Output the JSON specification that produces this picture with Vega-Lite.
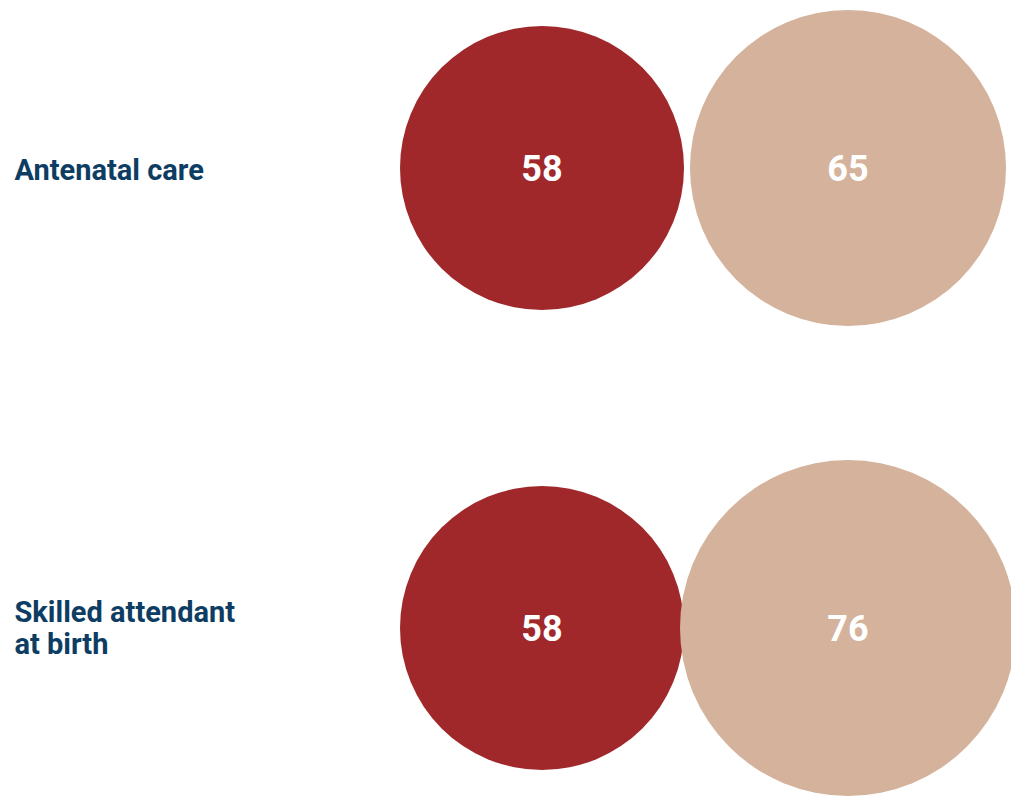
{
  "$schema": "https://vega.github.io/schema/vega-lite/v6.json",
  "width": 1011,
  "height": 796,
  "padding": 0,
  "autosize": {"type": "none"},
  "background": "white",
  "config": {"view": {"stroke": null}},
  "data": {
    "values": [
      {"indicator": "Antenatal care", "group": "a", "value": 58},
      {"indicator": "Antenatal care", "group": "b", "value": 65},
      {"indicator": "Skilled attendant at birth", "group": "a", "value": 58},
      {"indicator": "Skilled attendant at birth", "group": "b", "value": 76}
    ]
  },
  "encoding": {
    "x": {"field": "group", "type": "nominal", "scale": {"type": "point", "domain": ["a", "b"], "padding": 0, "range": [542, 848]}, "axis": null},
    "y": {
      "field": "indicator", "type": "nominal",
      "scale": {"type": "point", "domain": ["Antenatal care", "Skilled attendant at birth"], "padding": 0, "range": [168, 628]},
      "axis": {
        "orient": "left", "title": null, "domain": false, "ticks": false, "grid": false,
        "labelAlign": "left", "labelBaseline": "middle", "labelPadding": -14,
        "labelFont": "Roboto", "labelFontWeight": "bold", "labelFontSize": 29, "labelColor": "#0e3d63",
        "labelLineHeight": 32, "labelLimit": 0,
        "labelOffset": {"condition": {"test": "datum.value == 'Skilled attendant at birth'", "value": -16}, "value": 2},
        "labelExpr": "datum.value == 'Skilled attendant at birth' ? ['Skilled attendant', 'at birth'] : datum.value"
      }
    }
  },
  "layer": [
    {
      "mark": {"type": "circle", "opacity": 1},
      "encoding": {
        "size": {"field": "value", "type": "quantitative", "scale": {"type": "threshold", "domain": [60, 70], "range": [80656, 99856, 112896]}, "legend": null},
        "color": {"field": "group", "type": "nominal", "scale": {"domain": ["a", "b"], "range": ["#a0282b", "#d4b29b"]}, "legend": null}
      }
    },
    {
      "mark": {"type": "text", "font": "Roboto", "fontWeight": "bold", "fontSize": 36, "color": "white", "align": "center", "baseline": "middle", "dy": 2},
      "encoding": {"text": {"field": "value", "type": "quantitative"}}
    }
  ]
}
